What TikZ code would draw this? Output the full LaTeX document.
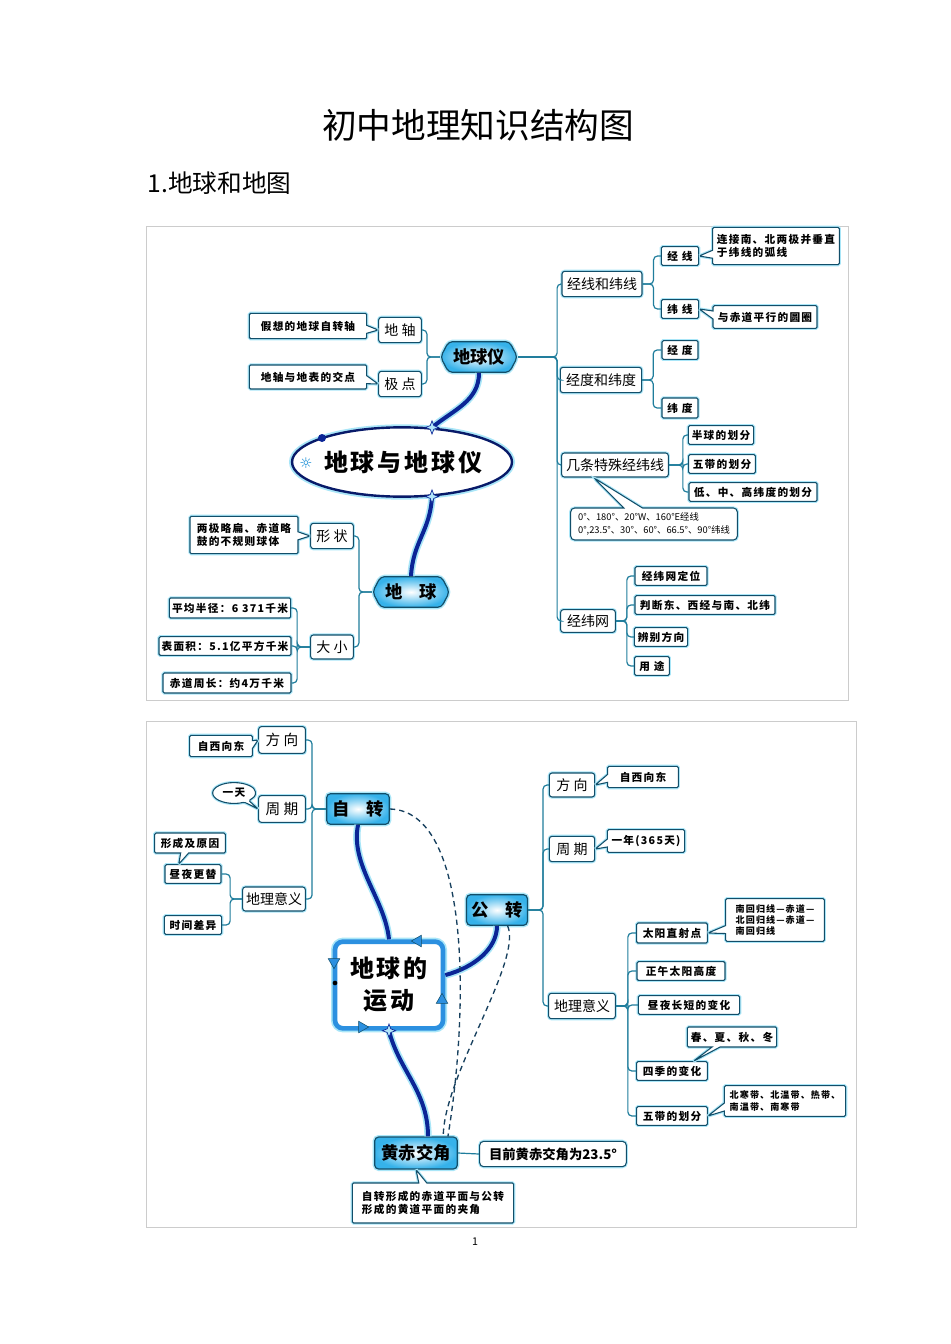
\documentclass[tikz,border=0pt]{standalone}
\usepackage{fontspec}
\setmainfont{Noto Sans CJK SC}
\newfontfamily\spacedcjk[LetterSpace=12]{Noto Sans CJK SC}
\newfontfamily\symbolfont{DejaVu Sans}
\usetikzlibrary{positioning,calc,shapes.geometric,shapes.symbols,shapes.callouts}

\definecolor{boxline}{HTML}{124E69}
\definecolor{glow}{HTML}{A9E6F8}
\definecolor{connline}{HTML}{1F7D9C}
\definecolor{hubblue}{HTML}{36B2EA}
\definecolor{trunkblue}{HTML}{0B2596}
\definecolor{framed}{HTML}{2C90E0}
\definecolor{dashline}{HTML}{17405E}

\begin{document}
\begin{tikzpicture}[x=0.75pt, y=-0.75pt,
    box/.style={rectangle, draw=boxline, line width=0.8pt, fill=white, inner sep=1pt,
        rounded corners=1pt, preaction={draw=glow, line width=2.4pt}},
    leaf/.style={box, font=\spacedcjk\bfseries\fontsize{8}{10}\selectfont},
    mid/.style={box, rounded corners=2pt, font=\fontsize{10.5}{12}\selectfont},
    hub/.style={rectangle, rounded corners=3pt, draw=boxline, line width=0.9pt,
        inner color=white, outer color=hubblue, preaction={draw=glow, line width=3pt},
        font=\bfseries\fontsize{13}{15}\selectfont},
    hexa/.style={hub, shape=signal, signal to=west and east, signal pointer angle=125},
    note/.style={rectangle callout, draw=boxline, line width=0.8pt, fill=white, inner sep=2pt,
        rounded corners=1pt, callout pointer width=6pt, align=left,
        preaction={draw=glow, line width=2.4pt},
        font=\spacedcjk\bfseries\fontsize{8}{10}\selectfont},
    smallnote/.style={font=\spacedcjk\bfseries\fontsize{6.8}{8.5}\selectfont},
    conn/.style={draw=connline, line width=0.9pt, rounded corners=3pt},
    trunk/.style={draw=trunkblue, line width=3pt, preaction={draw=glow, line width=5.5pt}},
    dashlink/.style={draw=dashline, line width=1pt, dash pattern=on 4pt off 3pt},
    starmark/.style={star, star points=4, star point ratio=2.6, minimum size=10pt, inner sep=0pt,
        fill=cyan!30, draw=trunkblue, line width=0.5pt},
    frametip/.style={regular polygon, regular polygon sides=3, minimum size=10pt, inner sep=0pt,
        fill=framed, draw=boxline, line width=0.4pt},
    panel/.style={draw=gray!40, line width=0.6pt},
]

% page
\path[use as bounding box, fill=white] (0,0) rectangle (950,1344);

% headings
\node[font=\fontsize{26}{30}\selectfont] (title) at (478,125) {初中地理知识结构图};
\node[font=\fontsize{18.5}{22}\selectfont, anchor=west] (part) at (143,183) {1.地球和地图};
\node[font=\fontsize{8}{10}\selectfont] (pageno) at (475,1242) {1};

% panels
\draw[panel] (146,226) rectangle (848,700);
\draw[panel] (146,721) rectangle (856,1227);

% ---------------- Earth and globe ----------------
\node[ellipse, draw=trunkblue!70!black, line width=1.8pt, fill=white, inner sep=0pt,
      minimum width=165pt, minimum height=52pt, preaction={draw=glow, line width=4.5pt},
      label={[font=\spacedcjk\bfseries\fontsize{18}{21}\selectfont, xshift=1pt]center:地球与地球仪}] (core1) at (402,462) {};

% globe branch
\node[hexa, minimum width=53pt, minimum height=23pt] (globe) at (479,357) {地球仪};
\node[mid, minimum width=32pt, minimum height=19pt] (axis) at (400,330) {地 轴};
\node[mid, minimum width=32pt, minimum height=19pt] (pole) at (400,384) {极 点};
\node[note, minimum width=88pt, minimum height=19pt, callout absolute pointer={(axis.west)}] (axisNote) at (308,326) {假想的地球自转轴};
\node[note, minimum width=88pt, minimum height=18pt, callout absolute pointer={(pole.west)}] (poleNote) at (308,377) {地轴与地表的交点};

\node[mid, minimum width=60pt, minimum height=19pt] (lines) at (602,284) {经线和纬线};
\node[leaf, minimum width=28pt, minimum height=14pt] (mer) at (680,256) {经 线};
\node[leaf, minimum width=28pt, minimum height=14pt] (par) at (680,309) {纬 线};
\node[note, minimum width=95pt, minimum height=28pt, callout absolute pointer={(mer.east)}] (merNote) at (776,246) {连接南、北两极并垂直\\于纬线的弧线};
\node[note, minimum width=78pt, minimum height=17pt, callout absolute pointer={(par.east)}] (parNote) at (765,317) {与赤道平行的圆圈};

\node[mid, minimum width=61pt, minimum height=19pt] (degrees) at (601,380) {经度和纬度};
\node[leaf, minimum width=27pt, minimum height=14pt] (lon) at (680,350) {经 度};
\node[leaf, minimum width=27pt, minimum height=15pt] (lat) at (680,408) {纬 度};

\node[mid, minimum width=80pt, minimum height=18pt] (special) at (615,465) {几条特殊经纬线};
\node[leaf, minimum width=49pt, minimum height=14pt] (hemi) at (721,435) {半球的划分};
\node[leaf, minimum width=50pt, minimum height=14pt] (zones) at (722,464) {五带的划分};
\node[leaf, minimum width=96pt, minimum height=14pt] (bands) at (753,492) {低、中、高纬度的划分};
\node[note, rounded corners=3pt, minimum width=125pt, minimum height=24pt, font=\fontsize{7}{9.5}\selectfont,
      callout pointer width=14pt,
      callout absolute pointer={($(special.south west)!0.3!(special.south east)$)}] (specialNote) at (654,524)
      {0°、180°、20°W、160°E经线\\0°,23.5°、30°、60°、66.5°、90°纬线};

\node[mid, minimum width=41pt, minimum height=17pt] (grid) at (588,621) {经纬网};
\node[leaf, minimum width=54pt, minimum height=14pt] (locate) at (671,576) {经纬网定位};
\node[leaf, minimum width=105pt, minimum height=14pt] (judge) at (705,605) {判断东、西经与南、北纬};
\node[leaf, minimum width=40pt, minimum height=14pt] (orient) at (661,637) {辨别方向};
\node[leaf, minimum width=26pt, minimum height=14pt] (uses) at (652,666) {用 途};

% earth branch
\node[hexa, minimum width=54pt, minimum height=23pt] (earth) at (411,592) {地\quad 球};
\node[mid, minimum width=32pt, minimum height=19pt] (form) at (332,536) {形 状};
\node[note, minimum width=81pt, minimum height=28pt, callout absolute pointer={(form.west)}] (formNote) at (244,535) {两极略扁、赤道略\\鼓的不规则球体};
\node[mid, minimum width=32pt, minimum height=18pt] (size) at (332,647) {大 小};
\node[leaf, minimum width=91pt, minimum height=15pt] (radius) at (230,608) {平均半径：6 371千米};
\node[leaf, minimum width=99pt, minimum height=14pt] (area) at (225,646) {表面积：5.1亿平方千米};
\node[leaf, minimum width=96pt, minimum height=15pt] (girth) at (227,683) {赤道周长：约4万千米};

% connectors
\draw[trunk] (globe.south) .. controls +(0,28) and +(22,-18) .. (core1.49);
\draw[trunk] (core1.-49) .. controls +(-2,35) and +(2,-35) .. (earth.north);

\draw[conn] (globe.west) -- ++(-13,0) |- (axis.east);
\draw[conn] (globe.west) -- ++(-13,0) |- (pole.east);
\draw[conn] (globe.east) -- ++(39,0) |- (lines.west);
\draw[conn] (globe.east) -- ++(39,0) |- (degrees.west);
\draw[conn] (globe.east) -- ++(39,0) |- (special.west);
\draw[conn] (globe.east) -- ++(39,0) |- (grid.west);
\draw[conn] (lines.east) -- ++(11,0) |- (mer.west);
\draw[conn] (lines.east) -- ++(11,0) |- (par.west);
\draw[conn] (degrees.east) -- ++(11,0) |- (lon.west);
\draw[conn] (degrees.east) -- ++(11,0) |- (lat.west);
\draw[conn] (special.east) -- ++(14,0) |- (hemi.west);
\draw[conn] (special.east) -- ++(14,0) |- (zones.west);
\draw[conn] (special.east) -- ++(14,0) |- (bands.west);
\draw[conn] (grid.east) -- ++(11,0) |- (locate.west);
\draw[conn] (grid.east) -- ++(11,0) |- (judge.west);
\draw[conn] (grid.east) -- ++(11,0) |- (orient.west);
\draw[conn] (grid.east) -- ++(11,0) |- (uses.west);
\draw[conn] (earth.west) -- ++(-13,0) |- (form.east);
\draw[conn] (earth.west) -- ++(-13,0) |- (size.east);
\draw[conn] (size.west) -- ++(-13,0) |- (radius.east);
\draw[conn] (size.west) -- ++(-13,0) |- (area.east);
\draw[conn] (size.west) -- ++(-13,0) |- (girth.east);

% ellipse ornaments
\node[circle, fill=trunkblue, inner sep=0pt, minimum size=6pt] (dot1) at (322,438) {};
\node[starmark] (star1) at (core1.49) {};
\node[starmark] (star2) at (core1.-49) {};
\node[text=cyan!70!blue, font=\symbolfont\fontsize{11}{12}\selectfont] (sun) at (306,463) {☼};

% ---------------- Earth's motion ----------------
\node[rectangle, rounded corners=6pt, draw=framed, line width=3.5pt, fill=white, minimum width=81pt, minimum height=65pt,
      preaction={draw=glow, line width=6pt}, align=center,
      font=\spacedcjk\bfseries\fontsize{18}{24}\selectfont] (core2) at (389,985) {地球的\\运动};

% rotation
\node[hub, minimum width=47pt, minimum height=23pt] (spin) at (358,809) {自\quad 转};
\node[mid, font=\fontsize{11}{13}\selectfont, minimum width=35pt, minimum height=20pt] (spinDir) at (282,740) {方 向};
\node[note, minimum width=47pt, minimum height=16pt, callout absolute pointer={(spinDir.west)}] (spinDirNote) at (221,746) {自西向东};
\node[mid, font=\fontsize{11}{13}\selectfont, minimum width=35pt, minimum height=20pt] (spinPer) at (282,809) {周 期};
\node[note, ellipse callout, minimum width=32pt, minimum height=13pt, callout absolute pointer={(spinPer.west)}] (spinPerNote) at (234,793) {一天};
\node[mid, minimum width=47pt, minimum height=18pt] (spinGeo) at (274,899) {地理意义};
\node[leaf, minimum width=42pt, minimum height=14pt] (dayNight) at (193,874) {昼夜更替};
\node[note, minimum width=53pt, minimum height=15pt,
      callout absolute pointer={($(dayNight.north west)!0.25!(dayNight.north east)$)}] (dayNightNote) at (190,843) {形成及原因};
\node[leaf, minimum width=43pt, minimum height=14pt] (timeDiff) at (193,925) {时间差异};

% revolution
\node[hub, minimum width=45pt, minimum height=23pt] (orbit) at (497,910) {公\quad 转};
\node[mid, minimum width=34pt, minimum height=18pt] (orbDir) at (572,785) {方 向};
\node[note, minimum width=53pt, minimum height=16pt, callout absolute pointer={(orbDir.east)}] (orbDirNote) at (643,777) {自西向东};
\node[mid, minimum width=34pt, minimum height=19pt] (orbPer) at (572,849) {周 期};
\node[note, minimum width=58pt, minimum height=17pt, callout absolute pointer={(orbPer.east)}] (orbPerNote) at (646,841) {一年(365天)};
\node[mid, minimum width=50pt, minimum height=19pt] (orbGeo) at (582,1006) {地理意义};
\node[leaf, minimum width=53pt, minimum height=15pt] (subsolar) at (672,933) {太阳直射点};
\node[note, smallnote, minimum width=74pt, minimum height=32pt, callout absolute pointer={(subsolar.east)}] (subsolarNote) at (775,920) {南回归线—赤道—\\北回归线—赤道—\\南回归线};
\node[leaf, minimum width=66pt, minimum height=14pt] (noonSun) at (681,971) {正午太阳高度};
\node[leaf, minimum width=76pt, minimum height=14pt] (dayLen) at (689,1005) {昼夜长短的变化};
\node[leaf, minimum width=53pt, minimum height=14pt] (seasons) at (672,1071) {四季的变化};
\node[note, minimum width=67pt, minimum height=15pt,
      callout absolute pointer={($(seasons.north)!0.6!(seasons.north east)$)}] (seasonsNote) at (732,1037) {春、夏、秋、冬};
\node[leaf, minimum width=53pt, minimum height=14pt] (fiveZones) at (672,1116) {五带的划分};
\node[note, smallnote, minimum width=91pt, minimum height=23pt, callout absolute pointer={(fiveZones.east)}] (fiveZonesNote) at (785,1101) {北寒带、北温带、热带、\\南温带、南寒带};

% obliquity
\node[hub, minimum width=62pt, minimum height=24pt] (tilt) at (416,1153) {黄赤交角};
\node[mid, rounded corners=3pt, font=\bfseries\fontsize{10}{12}\selectfont, minimum width=110pt, minimum height=19pt] (tiltNow) at (553,1154) {目前黄赤交角为23.5°};
\node[note, minimum width=121pt, minimum height=30pt, callout absolute pointer={(tilt.south)}] (tiltNote) at (433,1203) {自转形成的赤道平面与公转\\形成的黄道平面的夹角};

% connectors
\draw[trunk] (spin.south) .. controls +(-8,40) and +(-4,-40) .. (core2.north);
\draw[trunk] (orbit.south) .. controls +(0,22) and +(30,-8) .. (core2.10);
\draw[trunk] (core2.south) .. controls +(10,40) and +(0,-45) .. ([xshift=9pt]tilt.north);
\draw[dashlink] (spin.east) .. controls +(81,2) and +(21,-127) .. ([xshift=-7.5pt]tilt.north east);
\draw[dashlink] ([xshift=8pt]orbit.south) .. controls +(15,35) and +(0,-60) .. ([xshift=-11pt]tilt.north east);

\draw[conn] (spin.west) -- ++(-14,0) |- (spinDir.east);
\draw[conn] (spin.west) -- ++(-14,0) |- (spinPer.east);
\draw[conn] (spin.west) -- ++(-14,0) |- (spinGeo.east);
\draw[conn] (spinGeo.west) -- ++(-12,0) |- (dayNight.east);
\draw[conn] (spinGeo.west) -- ++(-12,0) |- (timeDiff.east);
\draw[conn] (orbit.east) -- ++(15,0) |- (orbDir.west);
\draw[conn] (orbit.east) -- ++(15,0) |- (orbPer.west);
\draw[conn] (orbit.east) -- ++(15,0) |- (orbGeo.west);
\draw[conn] (orbGeo.east) -- ++(12,0) |- (subsolar.west);
\draw[conn] (orbGeo.east) -- ++(12,0) |- (noonSun.west);
\draw[conn] (orbGeo.east) -- ++(12,0) |- (dayLen.west);
\draw[conn] (orbGeo.east) -- ++(12,0) |- (seasons.west);
\draw[conn] (orbGeo.east) -- ++(12,0) |- (fiveZones.west);
\draw[conn] (tilt.east) -- (tiltNow.west);

% frame ornaments
\node[frametip, shape border rotate=90] (tipA) at (418,941) {};
\node[frametip, shape border rotate=180] (tipB) at (334,962) {};
\node[frametip, shape border rotate=-90] (tipC) at (362,1027) {};
\node[frametip] (tipD) at (442,1000) {};
\node[circle, fill=black, inner sep=0pt, minimum size=3.5pt] (dot2) at (335,983) {};
\node[starmark] (star3) at (core2.south) {};

\end{tikzpicture}
\end{document}
